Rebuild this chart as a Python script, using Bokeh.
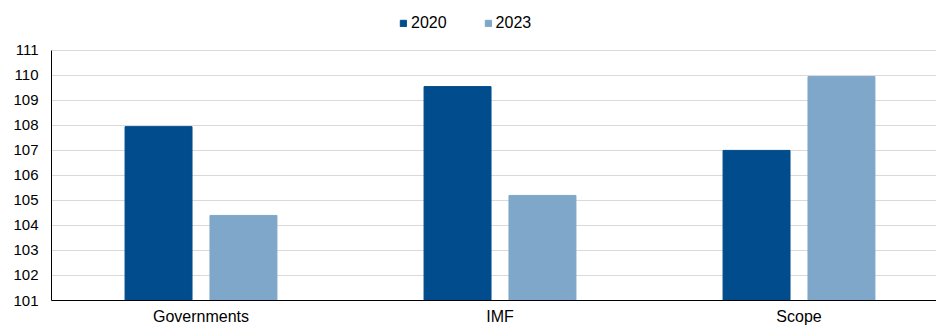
from bokeh.plotting import figure
from bokeh.models import ColumnDataSource, Range1d, FixedTicker, Legend, LegendItem
from bokeh.embed import file_html
from bokeh.resources import INLINE

# Index values by source, 2020 vs 2023
categories = ["Governments", "IMF", "Scope"]
values_2020 = [107.95, 109.55, 107.0]
values_2023 = [104.4, 105.2, 109.95]
y_ticks = [101, 102, 103, 104, 105, 106, 107, 108, 109, 110, 111]

COLOR_2020 = "#004C8C"
COLOR_2023 = "#7FA7C9"
FONT = "Liberation Sans"

centers = [i + 0.5 for i in range(len(categories))]
offset = 0.142
bar_w = 0.224

src_2020 = ColumnDataSource(dict(x=[c - offset for c in centers], top=values_2020))
src_2023 = ColumnDataSource(dict(x=[c + offset for c in centers], top=values_2023))

# frame spans the full height; headroom above 111 holds the legend
PX_PER_UNIT = 25.1
FRAME_H = 301
p = figure(
    width=936, height=327,
    x_range=Range1d(0, 885 / 299),
    y_range=Range1d(101, 101 + FRAME_H / PX_PER_UNIT),
    output_backend="svg", toolbar_location=None,
    min_border_left=51, min_border_right=0, min_border_top=0, min_border_bottom=26,
)
p.outline_line_color = None
p.background_fill_color = "white"
p.border_fill_color = "white"

r1 = p.vbar(x="x", top="top", bottom=101, width=bar_w, source=src_2020,
            fill_color=COLOR_2020, line_color=COLOR_2020)
r2 = p.vbar(x="x", top="top", bottom=101, width=bar_w, source=src_2023,
            fill_color=COLOR_2023, line_color=COLOR_2023)

# axes
p.xaxis.ticker = FixedTicker(ticks=centers)
p.xaxis.major_label_overrides = {c: name for c, name in zip(centers, categories)}
p.yaxis.ticker = FixedTicker(ticks=y_ticks)
p.yaxis.bounds = (101, 111)
for ax in (p.xaxis[0], p.yaxis[0]):
    ax.axis_line_color = "black"
    ax.axis_line_width = 1
    ax.major_tick_line_color = None
    ax.minor_tick_line_color = None
    ax.major_tick_out = 0
    ax.major_tick_in = 0
    ax.major_label_text_font = FONT
    ax.major_label_text_color = "black"
p.yaxis.major_label_text_font_size = "15px"
p.xaxis.major_label_text_font_size = "16px"
p.yaxis.major_label_standoff = 13
p.xaxis.major_label_standoff = 7

p.xgrid.grid_line_color = None
p.ygrid.grid_line_color = "#d9d9d9"
p.ygrid.grid_line_width = 1

legend = Legend(
    items=[LegendItem(label="2020", renderers=[r1]), LegendItem(label="2023", renderers=[r2])],
    orientation="horizontal",
    location=(348, 268),
    glyph_width=8, glyph_height=8,
    label_standoff=4, label_width=0, label_height=8,
    spacing=37, padding=0, margin=0,
    border_line_color=None, background_fill_alpha=0,
    label_text_font=FONT, label_text_font_size="16px", label_text_color="black",
)
p.add_layout(legend, "center")

open("out.html", "w").write(file_html(p, INLINE))
